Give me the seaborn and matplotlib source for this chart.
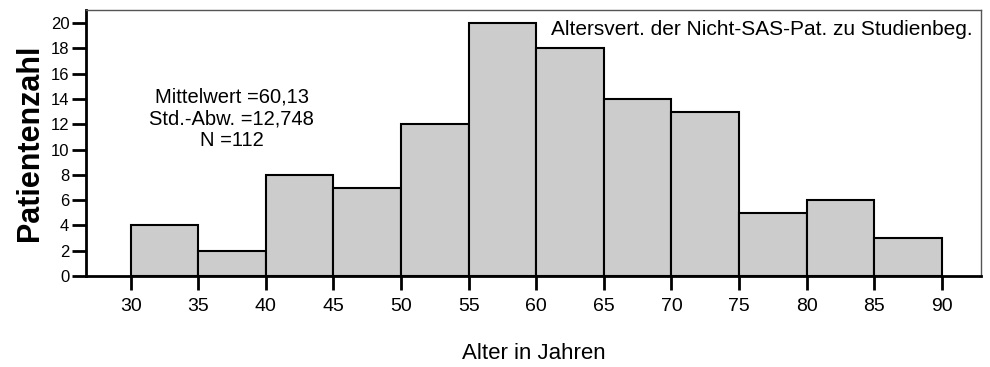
import numpy as np
import pandas as pd
import matplotlib
matplotlib.use('Agg')
import matplotlib.pyplot as plt
import seaborn as sns

# ----------------------------- #
#  Data
# ----------------------------- #
bin_edges = [30, 35, 40, 45, 50, 55, 60, 65, 70, 75, 80, 85, 90]
counts = [4, 2, 8, 7, 12, 20, 18, 14, 13, 5, 6, 3]
x_ticks = [30, 35, 40, 45, 50, 55, 60, 65, 70, 75, 80, 85, 90]
y_ticks = [0, 2, 4, 6, 8, 10, 12, 14, 16, 18, 20]
stats_text = "Mittelwert =60,13\nStd.-Abw. =12,748\nN =112"
title_text = "Altersvert. der Nicht-SAS-Pat. zu Studienbeg."

mids = [(a + b) / 2 for a, b in zip(bin_edges[:-1], bin_edges[1:])]
df = pd.DataFrame({'Alter': mids, 'Anzahl': counts})

# ----------------------------- #
#  Style
# ----------------------------- #
sns.set_style('ticks', {'text.color': 'black', 'axes.labelcolor': 'black',
                        'xtick.color': 'black', 'ytick.color': 'black'})
plt.rcParams['font.family'] = ['Liberation Sans', 'DejaVu Sans']

fig = plt.figure(figsize=(9.9, 3.67), dpi=100)
ax = fig.add_axes([0.0869, 0.248, 0.9041, 0.725])

sns.histplot(data=df, x='Alter', weights='Anzahl', bins=bin_edges,
             color='#cccccc', edgecolor='black', linewidth=1.5,
             alpha=1, ax=ax)

ax.set_xlim(26.7, 92.9)
ax.set_ylim(0, 21.05)
ax.set_xticks(x_ticks)
ax.set_yticks(y_ticks)
ax.tick_params(axis='x', length=10, width=2, labelsize=14, pad=6,
               color='black', labelcolor='black')
ax.tick_params(axis='y', length=10, width=2, labelsize=12, pad=2,
               color='black', labelcolor='black')

for side in ['left', 'bottom']:
    ax.spines[side].set_linewidth(2)
    ax.spines[side].set_color('black')
for side in ['top', 'right']:
    ax.spines[side].set_visible(True)
    ax.spines[side].set_linewidth(1)
    ax.spines[side].set_color('#555555')

ax.set_xlabel('Alter in Jahren', fontsize=16, labelpad=20, color='black')
ax.set_ylabel('Patientenzahl', fontsize=22, fontweight='bold', labelpad=4,
              color='black')

ax.text(0.163, 0.59, stats_text, transform=ax.transAxes, ha='center',
        va='center', fontsize=14.5, linespacing=1.2, color='black')
ax.text(0.99, 0.925, title_text, transform=ax.transAxes, ha='right',
        va='center', fontsize=15, color='black')

fig.savefig('out.png', dpi=100)
